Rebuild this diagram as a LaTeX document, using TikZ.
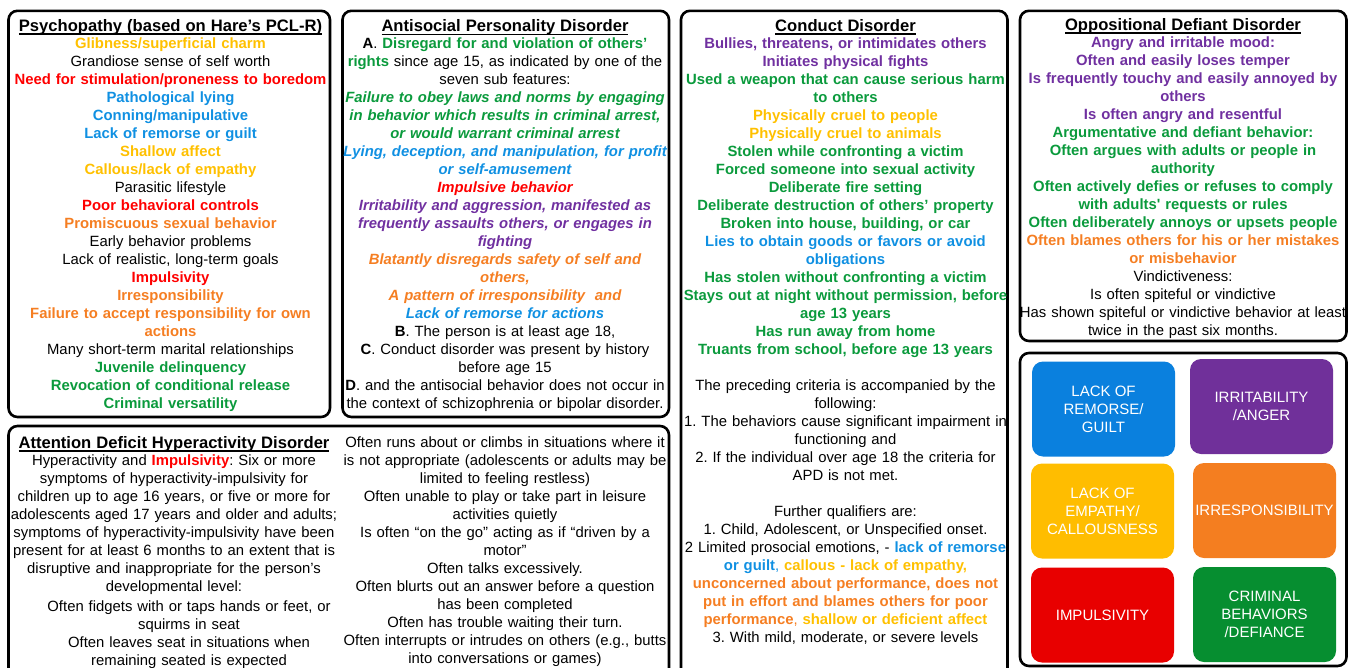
\documentclass[tikz,border=0pt]{standalone}
\usepackage{fontspec}
\setmainfont{Liberation Sans}
\frenchspacing

\definecolor{tgold}{HTML}{FFC000}
\definecolor{tred}{HTML}{FF0000}
\definecolor{tblue}{HTML}{1090E2}
\definecolor{torange}{HTML}{F57E22}
\definecolor{tpurple}{HTML}{7030A0}
\definecolor{tgreen}{HTML}{0A9A3C}
\definecolor{kblue}{HTML}{0A80DE}
\definecolor{kpurple}{HTML}{70309A}
\definecolor{kgold}{HTML}{FFBD00}
\definecolor{korange}{HTML}{F47E20}
\definecolor{kred}{HTML}{E80000}
\definecolor{kgreen}{HTML}{068E30}

% underlined box titles
\newcommand\hdr[1]{{\fontsize{16.6}{18}\selectfont\bfseries\setbox0\hbox{#1}\rlap{\vrule width\wd0 height -1.8pt depth 3.2pt}\box0}}
\newcommand\cgold[1]{\textcolor{tgold}{\bfseries #1}}
\newcommand\cred[1]{\textcolor{tred}{\bfseries #1}}
\newcommand\cblue[1]{\textcolor{tblue}{\bfseries #1}}
\newcommand\corange[1]{\textcolor{torange}{\bfseries #1}}
\newcommand\cpurple[1]{\textcolor{tpurple}{\bfseries #1}}
\newcommand\cgreen[1]{\textcolor{tgreen}{\bfseries #1}}

\begin{document}
\begin{tikzpicture}[x=1pt, y=-1pt,
    panel/.style={draw, line width=2.6pt, rounded corners=9pt, inner sep=0pt},
    body/.style={text width=340pt, align=center, inner sep=0pt, anchor=north,
      font=\fontsize{14.85}{18}\selectfont\frenchspacing},
    tile/.style={rounded corners=11pt, minimum width=143pt, minimum height=95pt,
      inner sep=0pt, text=white, align=center, font=\fontsize{15}{18}\selectfont}]
  \useasboundingbox (0,0) rectangle (1350,667);

  % frames
  \node[panel, minimum width=321.5pt, minimum height=406.2pt] (psy) at (169.25,213.9) {};
  \node[panel, minimum width=326.5pt, minimum height=406.2pt] (apd) at (505.75,213.9) {};
  \node[panel, minimum width=326.5pt, minimum height=679.2pt] (cd) at (844.25,350.4) {};
  \node[panel, minimum width=326.5pt, minimum height=330.2pt] (odd) at (1183.25,175.9) {};
  \node[panel, minimum width=326.5pt, minimum height=313pt] (key) at (1183.25,509.5) {};
  \node[panel, minimum width=660.5pt, minimum height=264pt] (adhd) at (338.75,558) {};

  % psychopathy
  \node[body] (psytxt) at (170.5,19.4) {\hdr{Psychopathy (based on Hare’s PCL-R)}\\[-1pt]
    \cgold{Glibness/superficial charm}\\
    Grandiose sense of self worth\\
    \cred{Need for stimulation/proneness to boredom}\\
    \cblue{Pathological lying}\\
    \cblue{Conning/manipulative}\\
    \cblue{Lack of remorse or guilt}\\
    \cgold{Shallow affect}\\
    \cgold{Callous/lack of empathy}\\
    Parasitic lifestyle\\
    \cred{Poor behavioral controls}\\
    \corange{Promiscuous sexual behavior}\\
    Early behavior problems\\
    Lack of realistic, long-term goals\\
    \cred{Impulsivity}\\
    \corange{Irresponsibility}\\
    \corange{Failure to accept responsibility for own\\ actions}\\
    Many short-term marital relationships\\
    \cgreen{Juvenile delinquency}\\
    \cgreen{Revocation of conditional release}\\
    \cgreen{Criminal versatility}};

  % antisocial personality disorder
  \node[body] (apdtxt) at (505,19.7) {\hdr{Antisocial Personality Disorder}\\[-1pt]
    \textbf{A}. \cgreen{Disregard for and violation of others’}\\
    \cgreen{rights} since age 15, as indicated by one of the\\
    seven sub features:\\
    \cgreen{\itshape Failure to obey laws and norms by engaging\\ in behavior which results in criminal arrest,\\ or would warrant criminal arrest}\\
    \cblue{\itshape Lying, deception, and manipulation, for profit\\ or self-amusement}\\
    \cred{\itshape Impulsive behavior}\\
    \cpurple{\itshape Irritability and aggression, manifested as\\ frequently assaults others, or engages in\\ fighting}\\
    \corange{\itshape Blatantly disregards safety of self and\\ others,\\ A pattern of irresponsibility\ \ and}\\
    \cblue{\itshape Lack of remorse for actions}\\
    \textbf{B}. The person is at least age 18,\\
    \textbf{C}. Conduct disorder was present by history\\ before age 15\\
    \textbf{D}. and the antisocial behavior does not occur in\\ the context of schizophrenia or bipolar disorder.};

  % conduct disorder
  \node[body] (cdtxt) at (845.5,19.4) {\hdr{Conduct Disorder}\\[-1pt]
    \cpurple{Bullies, threatens, or intimidates others\\ Initiates physical fights}\\
    \cgreen{Used a weapon that can cause serious harm\\ to others}\\
    \cgold{Physically cruel to people\\ Physically cruel to animals}\\
    \cgreen{Stolen while confronting a victim\\ Forced someone into sexual activity\\ Deliberate fire setting\\ Deliberate destruction of others’ property\\ Broken into house, building, or car}\\
    \cblue{Lies to obtain goods or favors or avoid\\ obligations}\\
    \cgreen{Has stolen without confronting a victim\\ Stays out at night without permission, before\\ age 13 years\\ Has run away from home\\ Truants from school, before age 13 years}\\[18pt]
    The preceding criteria is accompanied by the\\ following:\\
    1. The behaviors cause significant impairment in\\ functioning and\\
    2. If the individual over age 18 the criteria for\\ APD is not met.\\[18pt]
    Further qualifiers are:\\
    1. Child, Adolescent, or Unspecified onset.\\
    2 Limited prosocial emotions, - \cblue{lack of remorse\\ or guilt}\textcolor{tblue}{,} \cgold{callous - lack of empathy,}\\
    \corange{unconcerned about performance, does not\\ put in effort and blames others for poor\\ performance}\textcolor{torange}{,} \cgold{shallow or deficient affect}\\
    3. With mild, moderate, or severe levels};

  % oppositional defiant disorder
  \node[body] (oddtxt) at (1183,18.3) {\hdr{Oppositional Defiant Disorder}\\[-1pt]
    \cpurple{Angry and irritable mood:\\ Often and easily loses temper\\ Is frequently touchy and easily annoyed by\\ others\\ Is often angry and resentful}\\
    \cgreen{Argumentative and defiant behavior:\\ Often argues with adults or people in\\ authority\\ Often actively defies or refuses to comply\\ with adults\textquotesingle{} requests or rules\\ Often deliberately annoys or upsets people}\\
    \corange{Often blames others for his or her mistakes\\ or misbehavior}\\
    Vindictiveness:\\
    Is often spiteful or vindictive\\
    Has shown spiteful or vindictive behavior at least\\ twice in the past six months.};

  % ADHD
  \node[body] (adhdtxt) at (174,436.3) {\hdr{Attention Deficit Hyperactivity Disorder}\\[-1pt]
    Hyperactivity and \cred{Impulsivity}: Six or more\\
    symptoms of hyperactivity-impulsivity for\\
    children up to age 16 years, or five or more for\\
    adolescents aged 17 years and older and adults;\\
    symptoms of hyperactivity-impulsivity have been\\
    present for at least 6 months to an extent that is\\
    disruptive and inappropriate for the person’s\\
    developmental level:};
  \node[body] (adhdsub) at (189,600.3) {Often fidgets with or taps hands or feet, or\\ squirms in seat\\
    Often leaves seat in situations when\\ remaining seated is expected};
  \node[body] (adhdmore) at (505,436.5) {Often runs about or climbs in situations where it\\
    is not appropriate (adolescents or adults may be\\ limited to feeling restless)\\
    Often unable to play or take part in leisure\\ activities quietly\\
    Is often “on the go” acting as if “driven by a\\ motor”\\
    Often talks excessively.\\
    Often blurts out an answer before a question\\ has been completed\\
    Often has trouble waiting their turn.\\
    Often interrupts or intrudes on others (e.g., butts\\ into conversations or games)};

  % colour key
  \node[tile, fill=kblue] (remorse) at (1103.5,409) {LACK OF\\ REMORSE/\\ GUILT};
  \node[tile, fill=kpurple] (anger) at (1261.5,406.5) {IRRITABILITY\\ /ANGER};
  \node[tile, fill=kgold] (empathy) at (1102.5,511) {LACK OF\\ EMPATHY/\\ CALLOUSNESS};
  \node[tile, fill=korange] (irresp) at (1264.5,510.5) {IRRESPONSIBILITY};
  \node[tile, fill=kred] (impuls) at (1102.5,615) {IMPULSIVITY};
  \node[tile, fill=kgreen] (crime) at (1264.5,614.5) {CRIMINAL\\ BEHAVIORS\\ /DEFIANCE};
\end{tikzpicture}
\end{document}
